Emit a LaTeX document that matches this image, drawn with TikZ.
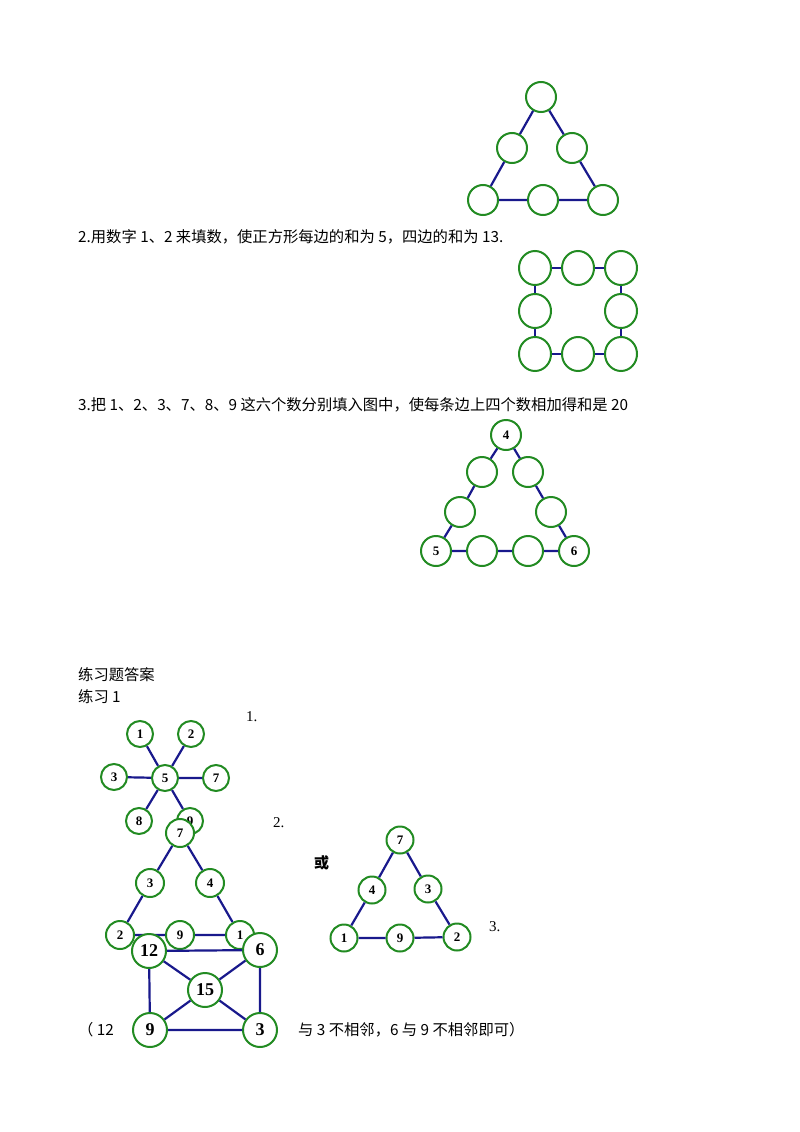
\documentclass[tikz,border=0pt]{standalone}
\usepackage{fontspec}
\usetikzlibrary{shapes.geometric}
\setmainfont{Liberation Serif}
\newfontfamily\cjk{Noto Sans CJK SC}
\definecolor{cg}{RGB}{34,139,34}
\definecolor{ln}{RGB}{25,25,140}
\begin{document}
\begin{tikzpicture}[x=1pt,y=-1pt,
  c/.style={circle,draw=cg,line width=2pt,fill=white,minimum size=#1,inner sep=0pt,font=\bfseries\fontsize{13}{13}\selectfont},
  c/.default=28pt,
  bc/.style={c=34pt,font=\bfseries\fontsize{18}{18}\selectfont},
  e/.style={ellipse,draw=cg,line width=2pt,fill=white,minimum width=32pt,minimum height=34pt,inner sep=0pt},
  l/.style={draw=ln,line width=2.2pt},
  t/.style={anchor=base west,inner sep=0pt,font=\cjk\fontsize{15.3}{15.3}\selectfont}]
\useasboundingbox (0,0) rectangle (800,1132);
% top triangle
\node[c=30pt] (a1) at (541,97) {};
\node[c=30pt] (a2) at (512,148) {};
\node[c=30pt] (a3) at (572,148) {};
\node[c=30pt] (a4) at (483,200) {};
\node[c=30pt] (a5) at (543,200) {};
\node[c=30pt] (a6) at (603,200) {};
\draw[l] (a1)--(a2) (a2)--(a4) (a4)--(a5) (a5)--(a6) (a6)--(a3) (a3)--(a1);
\node[t] (tx2) at (78,242) {2.用数字 1、2 来填数，使正方形每边的和为 5，四边的和为 13.};
% square
\node[e] (s1) at (535,268) {};
\node[e] (s2) at (578,268) {};
\node[e] (s3) at (621,268) {};
\node[e] (s4) at (535,311) {};
\node[e] (s5) at (621,311) {};
\node[e] (s6) at (535,354) {};
\node[e] (s7) at (578,354) {};
\node[e] (s8) at (621,354) {};
\draw[l] (s1)--(s2) (s2)--(s3) (s3)--(s5) (s5)--(s8) (s8)--(s7) (s7)--(s6) (s6)--(s4) (s4)--(s1);
\node[t] (tx3) at (78,410) {3.把 1、2、3、7、8、9 这六个数分别填入图中，使每条边上四个数相加得和是 20};
% triangle 3
\node[c=30pt] (b1) at (506,435) {4};
\node[c=30pt] (b2) at (482,472) {};
\node[c=30pt] (b3) at (528,472) {};
\node[c=30pt] (b4) at (460,512) {};
\node[c=30pt] (b5) at (551,512) {};
\node[c=30pt] (b6) at (436,551) {5};
\node[c=30pt] (b7) at (482,551) {};
\node[c=30pt] (b8) at (528,551) {};
\node[c=30pt] (b9) at (574,551) {6};
\draw[l] (b1)--(b2) (b2)--(b4) (b4)--(b6) (b6)--(b7) (b7)--(b8) (b8)--(b9) (b9)--(b5) (b5)--(b3) (b3)--(b1);
\node[t] (h1) at (78,680) {练习题答案};
\node[t] (h2) at (78,702) {练习 1};
\node[t,font=\fontsize{15}{15}\selectfont] (n1) at (246,721) {1.};
\node[t,font=\fontsize{15}{15}\selectfont] (n2) at (273,827) {2.};
\node[t,font=\fontsize{15}{15}\selectfont] (n3) at (489,931) {3.};
\node[t,font=\cjk\bfseries\fontsize{15}{15}\selectfont] (huo) at (314,868) {或};
% star
\node[c=26pt] (p5) at (165,778) {5};
\node[c=26pt] (p1) at (140,734) {1};
\node[c=26pt] (p2) at (191,734) {2};
\node[c=26pt] (p3) at (114,777) {3};
\node[c=26pt] (p7) at (216,778) {7};
\node[c=26pt] (p8) at (139,821) {8};
\node[c=26pt] (p9) at (190,821) {9};
\draw[l] (p5)--(p1) (p5)--(p2) (p5)--(p3) (p5)--(p7) (p5)--(p8) (p5)--(p9);
\node[c=28pt] (q7) at (180,833) {7};
\node[c=28pt] (q3) at (150,883) {3};
\node[c=28pt] (q4) at (210,883) {4};
\node[c=28pt] (q2) at (120,935) {2};
\node[c=28pt] (q9) at (180,935) {9};
\node[c=28pt] (q1) at (240,935) {1};
\draw[l] (q7)--(q3) (q3)--(q2) (q2)--(q9) (q9)--(q1) (q1)--(q4) (q4)--(q7);
\node[bc] (r12) at (149,951) {12};
\node[bc] (r6) at (260,950) {6};
\node[bc] (r15) at (205,990) {15};
\node[bc] (r9) at (150,1030) {9};
\node[bc] (r3) at (260,1030) {3};
\draw[l] (r12)--(r6) (r12)--(r15) (r15)--(r6) (r12)--(r9) (r9)--(r15) (r15)--(r3) (r6)--(r3) (r9)--(r3);
% right triangle
\node[c=27pt] (u7) at (400,840) {7};
\node[c=27pt] (u4) at (372,890) {4};
\node[c=27pt] (u3) at (428,889) {3};
\node[c=27pt] (u1) at (344,938) {1};
\node[c=27pt] (u9) at (400,938) {9};
\node[c=27pt] (u2) at (457,937) {2};
\draw[l] (u7)--(u4) (u4)--(u1) (u1)--(u9) (u9)--(u2) (u2)--(u3) (u3)--(u7);
\node[t] (f1) at (78,1035) {（ 12};
\node[t] (f2) at (298,1035) {与 3 不相邻，6 与 9 不相邻即可）};
\end{tikzpicture}
\end{document}
